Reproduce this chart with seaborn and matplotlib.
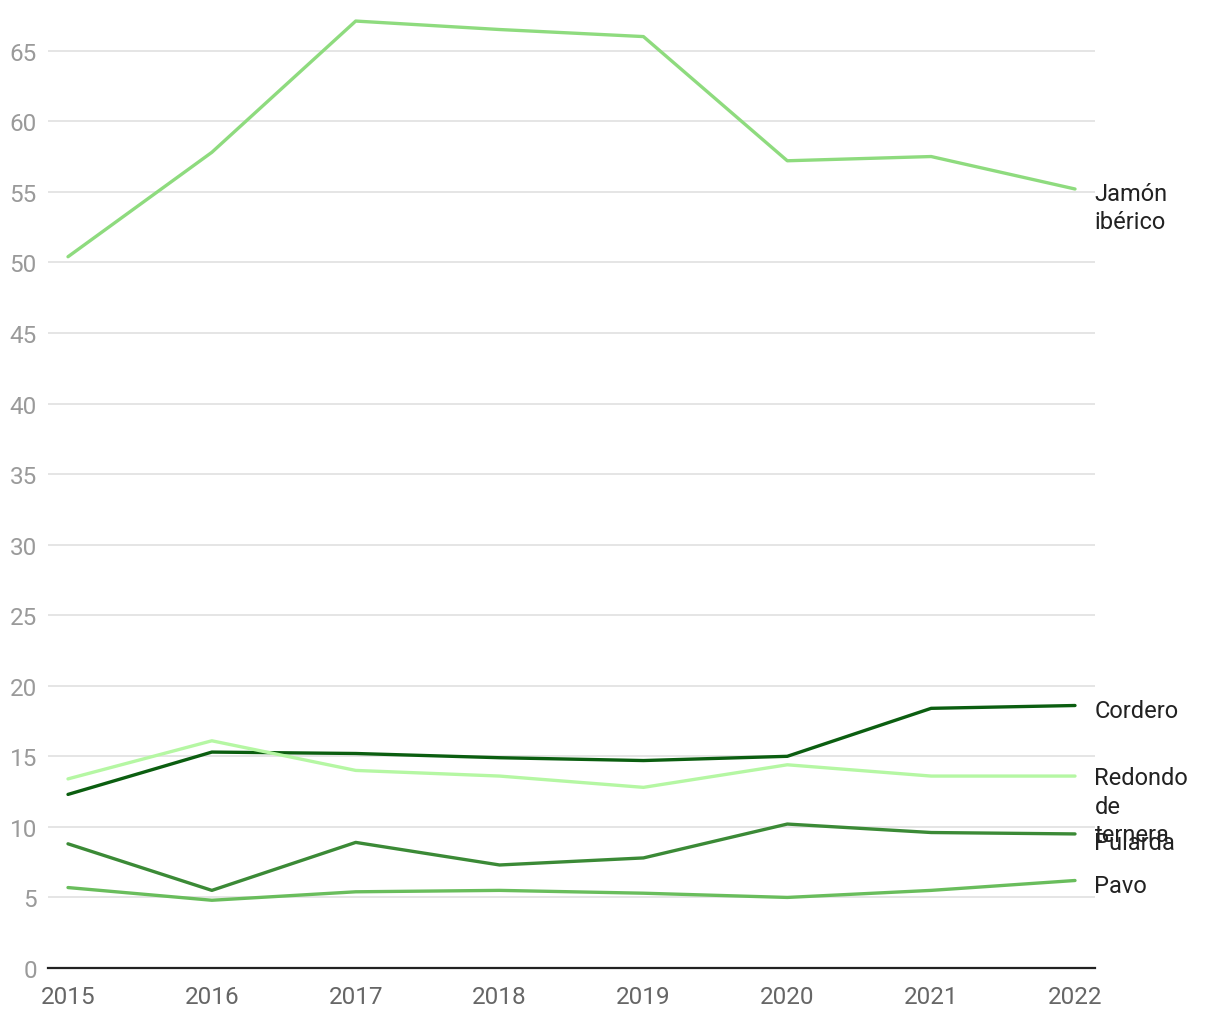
import pandas as pd
import numpy as np
import matplotlib.pyplot as plt
import seaborn as sns

years = [2015, 2016, 2017, 2018, 2019, 2020, 2021, 2022]
jamon = [50.4, 57.8, 67.1, 66.5, 66.0, 57.2, 57.5, 55.2]
cordero = [12.3, 15.3, 15.2, 14.9, 14.7, 15.0, 18.4, 18.6]
redondo = [13.4, 16.1, 14.0, 13.6, 12.8, 14.4, 13.6, 13.6]
pularda = [8.8, 5.5, 8.9, 7.3, 7.8, 10.2, 9.6, 9.5]
pavo = [5.7, 4.8, 5.4, 5.5, 5.3, 5.0, 5.5, 6.2]

series = {
    "Jamón ibérico": jamon,
    "Cordero": cordero,
    "Redondo de ternera": redondo,
    "Pularda": pularda,
    "Pavo": pavo,
}
labels = {
    "Jamón ibérico": "Jamón\nibérico",
    "Cordero": "Cordero",
    "Redondo de ternera": "Redondo\nde\nternera",
    "Pularda": "Pularda",
    "Pavo": "Pavo",
}
colors = {
    "Jamón ibérico": "#8edb7e",
    "Cordero": "#0b5e10",
    "Redondo de ternera": "#b5f7a3",
    "Pularda": "#3b8a36",
    "Pavo": "#69bd5c",
}
# label offset in points (Pularda sits a bit lower in the original)
label_dy = {
    "Jamón ibérico": 5,
    "Cordero": 5,
    "Redondo de ternera": 7,
    "Pularda": 2,
    "Pavo": 5,
}

rows = []
for name, vals in series.items():
    for y, v in zip(years, vals):
        rows.append({"year": y, "value": v, "serie": name})
df = pd.DataFrame(rows)

sns.set_style("white")
plt.rcParams["font.family"] = ["Roboto", "DejaVu Sans"]

fig = plt.figure(figsize=(12.2, 10.2), dpi=100)
ax = fig.add_axes([48 / 1220, 51 / 1020, 1047 / 1220, 954 / 1020])

sns.lineplot(data=df, x="year", y="value", hue="serie", palette=colors,
             linewidth=2.4, ax=ax, legend=False, zorder=3)

ax.set_xlim(2014.861, 2022.139)
ax.set_ylim(0, 67.6)
ax.set_yticks(range(0, 70, 5))
ax.set_xticks(years)
ax.set_xticklabels([str(y) for y in years])
ax.grid(axis="y", color="#e3e3e3", linewidth=1.3, zorder=0)
ax.grid(axis="x", visible=False)
ax.set_xlabel("")
ax.set_ylabel("")

for s in ["top", "right", "left"]:
    ax.spines[s].set_visible(False)
ax.spines["bottom"].set_color("#222222")
ax.spines["bottom"].set_linewidth(1.6)
ax.spines["bottom"].set_zorder(4)

ax.tick_params(axis="y", length=0, pad=8, labelsize=17.5, labelcolor="#9a9a9a")
ax.tick_params(axis="x", length=0, pad=12, labelsize=17.5, labelcolor="#666666")

for name, vals in series.items():
    ax.annotate(labels[name], xy=(years[-1], vals[-1]), xytext=(14, label_dy[name]),
                textcoords="offset points", va="top", ha="left",
                fontsize=17, color="#222222", linespacing=1.3,
                annotation_clip=False)

fig.savefig("out.png", dpi=100)
